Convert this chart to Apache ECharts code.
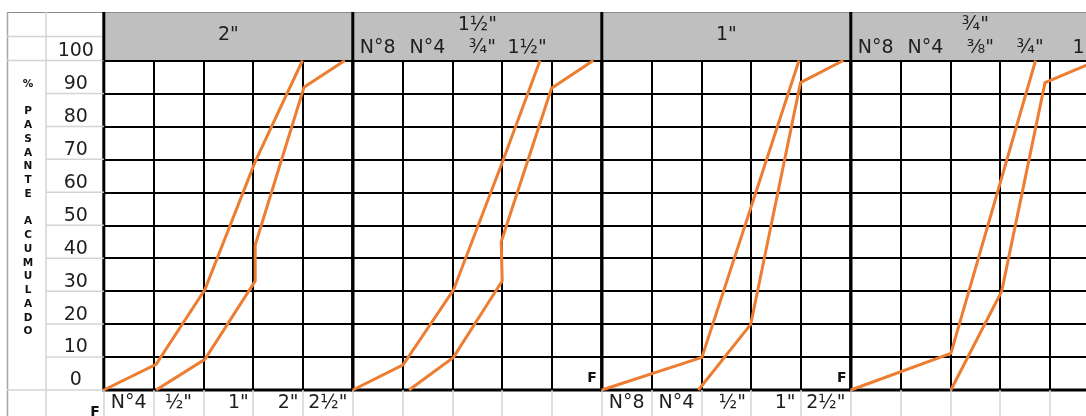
<!DOCTYPE html>
<html>
<head>
<meta charset="utf-8">
<script src="https://cdn.jsdelivr.net/npm/echarts@6/dist/echarts.min.js"></script>
<style>
  html, body { margin: 0; padding: 0; background: #fff; }
  #chart { width: 1086px; height: 416px; }
</style>
</head>
<body>
<div id="chart"></div>
<script>
// Grading envelopes: % passing (accumulated) against sieve columns,
// one panel per nominal maximum aggregate size.
const panelTitles = ['2"', '1½"', '1"', '¾"'];
const headerSieves = [[], ['N°8', 'N°4', '¾"', '1½"', ''], [], ['N°8', 'N°4', '⅜"', '¾"', '1"']];
const footerSieves = [['N°4', '½"', '1"', '2"', '2½"'], ['', '', '', '', ''], ['N°8', 'N°4', '½"', '1"', '2½"'], ['', '', '', '', '']];
const axisTitleLetters = ['%', '', 'P', 'A', 'S', 'A', 'N', 'T', 'E', '', 'A', 'C', 'U', 'M', 'U', 'L', 'A', 'D', 'O'];
const endMarks = ['F', 'F', 'F'];

// [sieve column position within the panel, % passing]
const fine2in    = [[0, 0], [1.05, 7.8], [2.03, 30.5], [3.04, 69.3], [3.99, 100]];
const coarse2in  = [[1.05, 0], [2.03, 9.3], [3.04, 33.1], [3.04, 44], [4.02, 91.9], [4.84, 100]];
const fine15in   = [[0, 0], [1.01, 7.6], [2.02, 30.3], [3.02, 69.8], [3.76, 100]];
const coarse15in = [[1.13, 0], [2.02, 9.9], [3.0, 33.1], [2.98, 45], [3.99, 91.6], [4.83, 100]];
const fine1in    = [[0, 0], [2.01, 9.9], [3.96, 100]];
const coarse1in  = [[1.94, 0], [2.99, 19.9], [3.99, 93.3], [4.85, 100]];
const fine34in   = [[0, 0], [2.01, 11.1], [3.71, 100]];
const coarse34in = [[2.01, 0], [3.03, 30], [3.9, 93.3], [4.96, 100]];

const envelopes = [[fine2in, coarse2in], [fine15in, coarse15in], [fine1in, coarse1in], [fine34in, coarse34in]];

// Sheet layout
const CANVAS_W = 1086;
const PLOT_TOP = 60.5, PLOT_H = 329.5, PANEL_X0 = 103.8, PANEL_W = 249;
const HEADER_TOP = 12;
const COL0 = 7, COL1 = 46;
const FONT = '"DejaVu Sans", sans-serif';
const TEXT = '#1e1e1e';
const ORANGE = '#ed7d31';
const SHEET_LINE = '#d4d4d4';
// horizontal nudge (px) of cell text that sits off-centre in its column
const headerNudge = [[], [0, 0, 10, 0, 0], [], [0, 0, 10, 10, 16]];
const footerNudge = [[0, 0, 20, 20, 0], [], [0, 0, 12, 18, 0], []];

const chart = echarts.init(document.getElementById('chart'), null, { renderer: 'canvas' });

const cellLabels = (labels, nudge) => labels.map((v, i) => {
  const n = (nudge && nudge[i]) || 0;
  return n ? { value: v, textStyle: { padding: [0, 0, 0, n] } } : v;
});

const grids = [], xAxes = [], yAxes = [], series = [];
panelTitles.forEach((t, k) => {
  const left = PANEL_X0 + PANEL_W * k;
  grids.push({
    left: left, top: PLOT_TOP, right: CANVAS_W - (left + PANEL_W), height: PLOT_H,
    show: true, borderColor: '#000', borderWidth: 3, backgroundColor: 'transparent',
    containLabel: false, outerBoundsMode: 'none'
  });
});

// value axes carrying the black cell grid
panelTitles.forEach((t, k) => {
  xAxes.push({
    type: 'value', gridIndex: k, min: 0, max: 5, interval: 1, position: 'bottom',
    axisLine: { show: false }, axisTick: { show: false }, axisLabel: { show: false },
    splitLine: { show: true, lineStyle: { color: '#000', width: 2 } }
  });
  yAxes.push({
    type: 'value', gridIndex: k, min: 0, max: 100, interval: 10,
    axisLine: { show: false }, axisTick: { show: false },
    axisLabel: k === 0 ? {
      show: true, align: 'center', verticalAlign: 'bottom', margin: 28,
      fontFamily: FONT, fontSize: 19, color: TEXT
    } : { show: false },
    splitLine: { show: true, lineStyle: { color: '#000', width: 2 } }
  });
});

// sieve names under the panels (plus the faint sheet column lines below the plot)
footerSieves.forEach((labels, k) => {
  xAxes.push({
    type: 'category', gridIndex: k, position: 'bottom', data: cellLabels(labels, footerNudge[k]), boundaryGap: true,
    axisLine: { show: false },
    axisTick: { show: true, interval: 0, length: 28, lineStyle: { color: SHEET_LINE, width: 1.5 } },
    axisLabel: { show: true, interval: 0, margin: 4, fontFamily: FONT, fontSize: 19, color: TEXT },
    splitLine: { show: false }
  });
});

// sieve names inside the header
headerSieves.forEach((labels, k) => {
  if (!labels.length) return;
  xAxes.push({
    type: 'category', gridIndex: k, position: 'top', data: cellLabels(labels, headerNudge[k]), boundaryGap: true,
    axisLine: { show: false }, axisTick: { show: false },
    axisLabel: { show: true, interval: 0, margin: 3, fontFamily: FONT, fontSize: 19, color: TEXT },
    splitLine: { show: false }
  });
});

envelopes.forEach((pair, k) => {
  pair.forEach((pts) => {
    series.push({
      type: 'line', xAxisIndex: k, yAxisIndex: k, data: pts,
      showSymbol: false, symbol: 'none', smooth: false, silent: true,
      lineStyle: { color: ORANGE, width: 3, cap: 'butt', join: 'miter' }
    });
  });
});

// ----- sheet chrome -----
const yOf = (v) => PLOT_TOP + (100 - v) / 100 * PLOT_H;
const graphics = [];
const line = (x1, y1, x2, y2, stroke, w, z) => graphics.push({
  type: 'line', silent: true, z: z || 1,
  shape: { x1, y1, x2, y2 }, style: { stroke, lineWidth: w }
});

// grey header band
graphics.push({
  type: 'rect', silent: true, z: 0,
  shape: { x: PANEL_X0, y: HEADER_TOP, width: CANVAS_W - PANEL_X0, height: PLOT_TOP - HEADER_TOP },
  style: { fill: '#bfbfbf' }
});
// sheet border lines
line(COL0, HEADER_TOP + 0.5, CANVAS_W, HEADER_TOP + 0.5, '#8c8c8c', 1);
line(COL0 + 0.5, HEADER_TOP, COL0 + 0.5, 416, '#a6a6a6', 1.5);
line(COL1, HEADER_TOP, COL1, 416, SHEET_LINE, 1.5);
line(COL0, 36.5, PANEL_X0, 36.5, SHEET_LINE, 1.5);
line(COL0, PLOT_TOP, PANEL_X0, PLOT_TOP, SHEET_LINE, 1.5);
line(COL0, yOf(0), PANEL_X0, yOf(0), SHEET_LINE, 1.5);
for (let v = 10; v < 100; v += 10) line(COL1, yOf(v), PANEL_X0, yOf(v), SHEET_LINE, 1.5);
// thick panel dividers through the header
panelTitles.forEach((t, k) => {
  const x = PANEL_X0 + PANEL_W * k;
  line(x, HEADER_TOP, x, PLOT_TOP, '#000', 3, 2);
});

// panel titles
const titleY = [35, 25, 35, 25];
panelTitles.forEach((t, k) => {
  graphics.push({
    type: 'text', silent: true, z: 3,
    x: PANEL_X0 + PANEL_W * (k + 0.5), y: titleY[k],
    style: { text: t, font: '19px ' + FONT, fill: TEXT, align: 'center', verticalAlign: 'middle' }
  });
});

// vertical axis caption
graphics.push({
  type: 'text', silent: true, z: 3, x: 28, y: 77.1,
  style: {
    text: axisTitleLetters.join('\n'), font: 'bold 10.5px ' + FONT, fill: '#111',
    align: 'center', verticalAlign: 'top', lineHeight: 13.76
  }
});

// "F" marks
const fPos = [[592, 378], [841.7, 378], [95, 412]];
endMarks.forEach((m, i) => {
  graphics.push({
    type: 'text', silent: true, z: 3, x: fPos[i][0], y: fPos[i][1],
    style: { text: m, font: 'bold 14px ' + FONT, fill: '#111', align: 'center', verticalAlign: 'middle' }
  });
});

chart.setOption({
  animation: false,
  backgroundColor: '#fff',
  grid: grids,
  xAxis: xAxes,
  yAxis: yAxes,
  series: series,
  graphic: { elements: graphics }
});
</script>
</body>
</html>
